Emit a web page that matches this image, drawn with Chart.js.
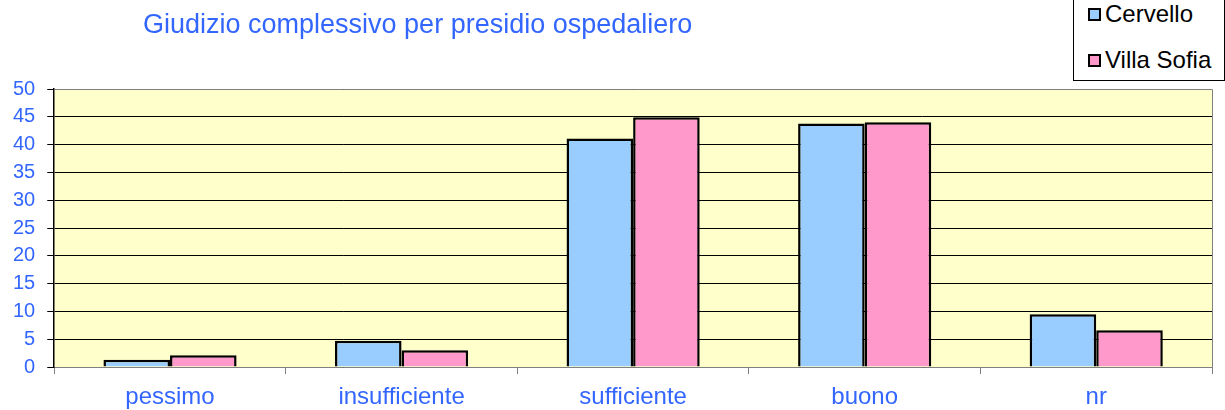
<!DOCTYPE html>
<html>
<head>
<meta charset="utf-8">
<script src="https://cdn.jsdelivr.net/npm/chart.js@4"></script>
<style>
    body { margin: 0; background: #fff; }
    #wrap { position: relative; width: 1225px; height: 410px; overflow: hidden; }
    #title {
        position: absolute; left: 143px; top: 9px;
        font: 27px "Liberation Sans", Arial, sans-serif; color: #3366ff;
    }
    #legend {
        position: absolute; left: 1073px; top: -2px; width: 150px; height: 81px;
        border: 1px solid #000; background: #fff;
        font: 24px "Liberation Sans", Arial, sans-serif; color: #000;
    }
    #legend div { position: absolute; left: 14px; white-space: nowrap; }
    #legend span {
        display: inline-block; width: 9px; height: 9px; border: 2px solid #000;
        margin-right: 4px; vertical-align: 1px;
    }
</style>
</head>
<body>
<div id="wrap">
    <canvas id="giudizioChart" width="1225" height="410"></canvas>
    <div id="title">Giudizio complessivo per presidio ospedaliero</div>
    <div id="legend"></div>
</div>
<script>
const categories = ['pessimo', 'insufficiente', 'sufficiente', 'buono', 'nr'];
const cervello = [1.3, 4.7, 41.1, 43.8, 9.5];
const villaSofia = [2.1, 3.0, 44.9, 44.0, 6.6];
const yTicks = [0, 5, 10, 15, 20, 25, 30, 35, 40, 45, 50];

const labelBlue = '#3366ff';

// yellow plot area with a thin grey frame, like the original spreadsheet chart
const plotBackground = {
    id: 'plotBackground',
    beforeDraw(chart) {
        const { ctx, chartArea: a } = chart;
        ctx.save();
        ctx.fillStyle = '#ffffcc';
        ctx.fillRect(a.left, a.top, a.right - a.left, a.bottom - a.top);
        ctx.restore();
    },
    afterDraw(chart) {
        const { ctx, chartArea: a } = chart;
        ctx.save();
        ctx.strokeStyle = '#808080';
        ctx.lineWidth = 1;
        ctx.beginPath();
        ctx.moveTo(a.left, a.top + 0.5);
        ctx.lineTo(Math.round(a.right) + 0.5, a.top + 0.5);
        ctx.lineTo(Math.round(a.right) + 0.5, a.bottom);
        ctx.stroke();
        ctx.restore();
    }
};

const ctx = document.getElementById('giudizioChart').getContext('2d');
const chart = new Chart(ctx, {
    type: 'bar',
    data: {
        labels: categories,
        datasets: [
            { label: 'Cervello', data: cervello, backgroundColor: '#99ccff', borderColor: '#000', borderWidth: 2.5 },
            { label: 'Villa Sofia', data: villaSofia, backgroundColor: '#ff99cc', borderColor: '#000', borderWidth: 2.5 }
        ]
    },
    options: {
        responsive: false,
        animation: false,
        layout: { padding: { left: 1, right: 13, top: 89, bottom: 0 } },
        datasets: { bar: { barPercentage: 1, categoryPercentage: 0.575 } },
        plugins: {
            legend: { display: false },
            title: { display: false },
            tooltip: { enabled: false }
        },
        scales: {
            x: {
                afterFit: axis => { axis.height = 43; },
                grid: { display: true, drawOnChartArea: false, drawTicks: true, offset: true, tickLength: 7, color: '#808080' },
                border: { color: '#808080', width: 1 },
                ticks: { color: labelBlue, padding: 9, font: { family: 'Liberation Sans', size: 24 } }
            },
            y: {
                min: 0,
                max: 50,
                afterBuildTicks: axis => { axis.ticks = yTicks.map(v => ({ value: v })); },
                grid: { color: '#000', lineWidth: 1, tickLength: 7 },
                border: { color: '#000', width: 1.5 },
                ticks: { color: labelBlue, padding: 12, font: { family: 'Liberation Sans', size: 20 } }
            }
        }
    },
    plugins: [plotBackground]
});

// legend as real text, built from the chart datasets
const legendEl = document.getElementById('legend');
chart.data.datasets.forEach((ds, i) => {
    const item = document.createElement('div');
    item.style.top = (i === 0 ? 1 : 47) + 'px';
    item.innerHTML = '<span style="background:' + ds.backgroundColor + '"></span>' + ds.label;
    legendEl.appendChild(item);
});
</script>
</body>
</html>
